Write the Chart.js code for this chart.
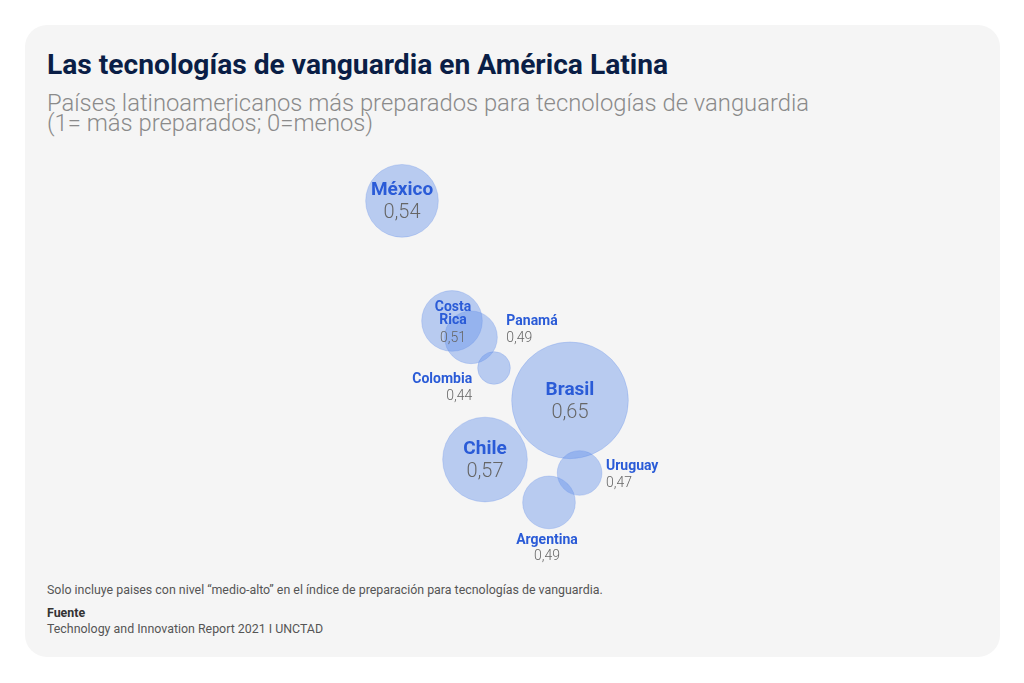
<!DOCTYPE html>
<html lang="es">
<head>
<meta charset="utf-8">
<title>Las tecnologías de vanguardia en América Latina</title>
<script src="https://cdn.jsdelivr.net/npm/chart.js@4.4.1/dist/chart.umd.min.js"></script>
<style>
    html, body { margin: 0; padding: 0; background: #fff; }
    body { width: 1024px; height: 683px; position: relative; overflow: hidden; font-family: Roboto, 'Noto Sans', sans-serif; }
    .card { position: absolute; left: 25px; top: 25px; width: 975px; height: 632px; border-radius: 22px; background: #f5f5f5; }
    .txt { position: absolute; left: 47px; margin: 0; white-space: nowrap; line-height: 1; }
    .title { top: 50.5px; font-size: 28.2px; font-weight: 700; color: #0a1e46; }
    .sub { font-size: 23.8px; font-weight: 300; color: #8a8a8a; }
    .note { font-size: 12.4px; color: #555; }
    #chartBox { position: absolute; left: 300px; top: 150px; width: 400px; height: 420px; }
</style>
</head>
<body>
<div class="card"></div>
<h1 class="txt title">Las tecnologías de vanguardia en América Latina</h1>
<div class="txt sub" style="top:91.7px">Países latinoamericanos más preparados para tecnologías de vanguardia</div>
<div class="txt sub" style="top:111.5px">(1= más preparados; 0=menos)</div>
<div id="chartBox"><canvas id="bubbleChart" width="400" height="420"></canvas></div>
<div class="txt note" style="top:584px">Solo incluye paises con nivel “medio-alto” en el índice de preparación para tecnologías de vanguardia.</div>
<div class="txt note" style="top:606.5px; font-weight:700; color:#333">Fuente</div>
<div class="txt note" style="top:622.5px">Technology and Innovation Report 2021 I UNCTAD</div>

<script>
// 資料：國家、指數、示意地圖位置（0-100 格）
const countries = ['México', 'Costa Rica', 'Panamá', 'Colombia', 'Brasil', 'Chile', 'Uruguay', 'Argentina'];
const values = [0.54, 0.51, 0.49, 0.44, 0.65, 0.57, 0.47, 0.49];
const mapX = [25.5, 38, 42.75, 48.5, 67.5, 46.25, 69.9, 62.25];
const mapY = [12.1, 40.7, 44.6, 51.9, 59.6, 73.7, 76.9, 83.9];

const BLUE = '#2a5bd7';
const GREY = '#666';

// 指數 -> 半徑（像素）
function radiusOf(v) {
    return 33.2 + 200 * (v - 0.5243);
}

function fmt(v) {
    return v.toFixed(2).replace('.', ',');
}

// 標籤擺放方式
const bigInside = { mode: 'inside', nameFont: '700 19px Roboto', valueFont: '300 20px Roboto', nameDy: [-5.5], valueDy: 17.5 };
const placement = {
    'México': bigInside,
    'Brasil': bigInside,
    'Chile': bigInside,
    'Costa Rica': { mode: 'inside', lines: ['Costa', 'Rica'], nameFont: '700 14px Roboto', valueFont: '300 14px Roboto', nameDy: [-10.3, 3], valueDy: 20.7, dx: 1 },
    'Panamá': { mode: 'right', gap: 9, nameDy: -12.5, valueDy: 4.2 },
    'Colombia': { mode: 'left', gap: 5.5, nameDy: 14.7, valueDy: 32 },
    'Uruguay': { mode: 'right', gap: 4, nameDy: -3, valueDy: 13.7 },
    'Argentina': { mode: 'below', dx: -2, nameDy: 15, valueDy: 31 }
};

const labelPlugin = {
    id: 'countryLabels',
    afterDatasetsDraw(chart) {
        const ctx = chart.ctx;
        const meta = chart.getDatasetMeta(0);
        ctx.save();
        ctx.textBaseline = 'alphabetic';
        meta.data.forEach(function(el, i) {
            const name = countries[i];
            const val = fmt(values[i]);
            const r = el.options.radius;
            const p = placement[name];
            const cx = el.x, cy = el.y;
            if (p.mode === 'inside') {
                const x = cx + (p.dx || 0);
                ctx.textAlign = 'center';
                ctx.font = p.nameFont;
                ctx.fillStyle = BLUE;
                const lines = p.lines || [name];
                lines.forEach(function(line, k) {
                    ctx.fillText(line, x, cy + p.nameDy[k]);
                });
                ctx.font = p.valueFont;
                ctx.fillStyle = GREY;
                ctx.fillText(val, x, cy + p.valueDy);
                return;
            }
            let x, y0;
            if (p.mode === 'right') {
                ctx.textAlign = 'left';
                x = cx + r + p.gap;
                y0 = cy;
            } else if (p.mode === 'left') {
                ctx.textAlign = 'right';
                x = cx - r - p.gap;
                y0 = cy;
            } else {
                ctx.textAlign = 'center';
                x = cx + (p.dx || 0);
                y0 = cy + r;
            }
            ctx.font = '700 14px Roboto';
            ctx.fillStyle = BLUE;
            ctx.fillText(name, x, y0 + p.nameDy);
            ctx.font = '300 14px Roboto';
            ctx.fillStyle = GREY;
            ctx.fillText(val, x, y0 + p.valueDy);
        });
        ctx.restore();
    }
};

const points = countries.map(function(c, i) {
    return { x: mapX[i], y: mapY[i] };
});

new Chart(document.getElementById('bubbleChart').getContext('2d'), {
    type: 'bubble',
    data: {
        labels: countries,
        datasets: [{
            data: points,
            backgroundColor: 'rgba(100, 146, 234, 0.42)',
            borderColor: 'rgba(90, 135, 230, 0.25)',
            borderWidth: 1,
            radius: function(context) {
                return radiusOf(values[context.dataIndex]);
            },
            clip: false
        }]
    },
    options: {
        responsive: false,
        devicePixelRatio: 1,
        animation: false,
        events: [],
        layout: { padding: 0, autoPadding: false },
        plugins: {
            legend: { display: false },
            tooltip: { enabled: false }
        },
        scales: {
            x: { type: 'linear', min: 0, max: 100, display: false },
            y: { type: 'linear', min: 0, max: 100, reverse: true, display: false }
        }
    },
    plugins: [labelPlugin]
});
</script>
</body>
</html>
